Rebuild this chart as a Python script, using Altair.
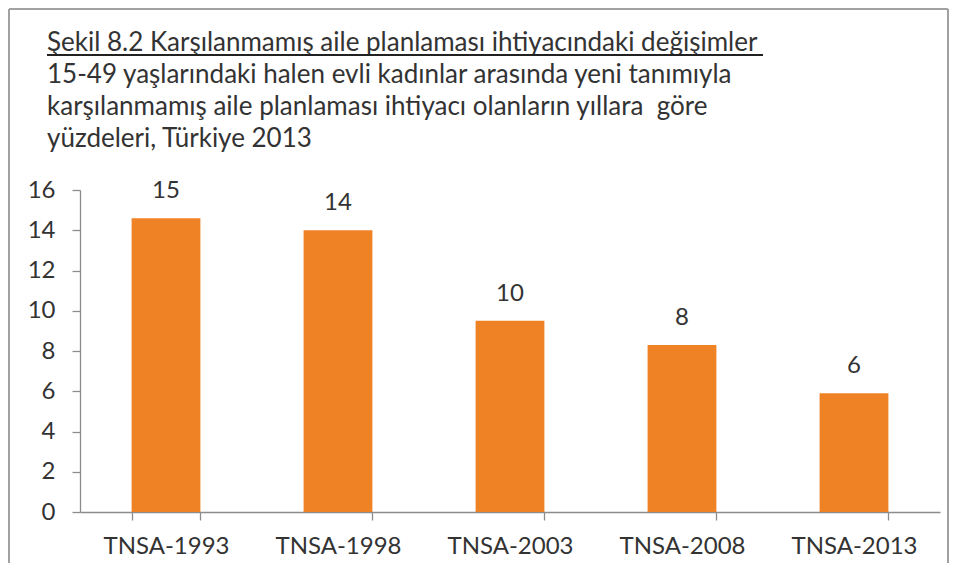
import altair as alt
import pandas as pd

categories = ["TNSA-1993", "TNSA-1998", "TNSA-2003", "TNSA-2008", "TNSA-2013"]
values = [14.6, 14.0, 9.5, 8.3, 5.9]
labels = ["15", "14", "10", "8", "6"]
y_ticks = [0, 2, 4, 6, 8, 10, 12, 14, 16]
title_lines = [
    "Şekil 8.2 Karşılanmamış aile planlaması ihtiyacındaki değişimler",
    "15-49 yaşlarındaki halen evli kadınlar arasında yeni tanımıyla",
    "karşılanmamış aile planlaması ihtiyacı olanların yıllara\u00a0 göre",
    "yüzdeleri, Türkiye 2013",
]

df = pd.DataFrame({"cat": categories, "val": values, "lab": labels})
tdf = pd.DataFrame({"t": ["\n".join(title_lines)]})

FONT = "Lato"
ORANGE = "#F08226"
GRAY = "#8C8C8C"
TEXT = "#333333"

W, H = 860, 322

x = alt.X("cat:N", sort=categories, title=None,
          scale=alt.Scale(paddingInner=0.6, paddingOuter=0.3),
          axis=alt.Axis(labelAngle=0, tickBand="extent", labelFont=FONT,
                        labelFontSize=24, labelColor=TEXT, labelPadding=14,
                        domainColor=GRAY, tickColor=GRAY, tickSize=8,
                        domainWidth=1.3, tickWidth=1.3))
y = alt.Y("val:Q", title=None,
          scale=alt.Scale(domain=[0, 16], nice=False),
          axis=alt.Axis(values=y_ticks, grid=False, labelFont=FONT,
                        labelFontSize=24, labelColor=TEXT, labelPadding=17,
                        domainColor=GRAY, tickColor=GRAY, tickSize=8,
                        domainWidth=1.3, tickWidth=1.3))

bars = alt.Chart(df).mark_bar(color=ORANGE).encode(x=x, y=y)
text = alt.Chart(df).mark_text(font=FONT, fontSize=24, color=TEXT,
                               baseline="middle", dy=-27).encode(
    x=alt.X("cat:N", sort=categories), y="val:Q", text="lab:N")

title = alt.Chart(tdf).mark_text(font=FONT, fontSize=26, color=TEXT,
                                 align="left", baseline="alphabetic",
                                 lineBreak="\n", lineHeight=32).encode(
    x=alt.value(-33), y=alt.value(-139), text="t:N")

underline = alt.Chart(df).mark_rule(color="#222222", strokeWidth=1.6).encode(
    x=alt.value(-33), x2=alt.value(683), y=alt.value(-135))
border_left = alt.Chart(df).mark_rule(color="#A0A0A0", strokeWidth=1.2).encode(
    x=alt.value(-71), y=alt.value(-181), y2=alt.value(373))
border_top = alt.Chart(df).mark_rule(color="#A0A0A0", strokeWidth=1.2).encode(
    x=alt.value(-71), x2=alt.value(868), y=alt.value(-181))
border_right = alt.Chart(df).mark_rule(color="#A0A0A0", strokeWidth=1.2).encode(
    x=alt.value(868), y=alt.value(-181), y2=alt.value(373))

chart = alt.layer(bars, text, title, underline, border_left, border_top, border_right).properties(
    width=W, height=H,
    autosize=alt.AutoSizeParams(type="none"),
    padding={"left": 72, "top": 182, "right": 9, "bottom": 51},
).configure_view(stroke=None)

chart.save("out.html", embed_options={"renderer": "svg", "actions": False})
